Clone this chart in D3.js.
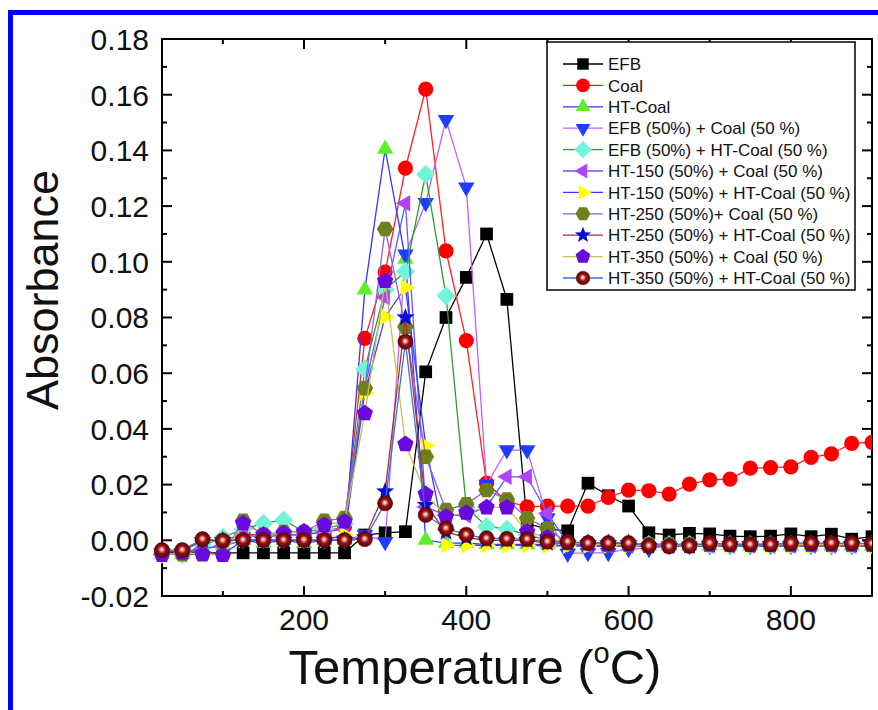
<!DOCTYPE html>
<html><head><meta charset="utf-8">
<script src="https://cdn.jsdelivr.net/npm/d3@7"></script>
<style>body{margin:0;background:#fff} svg{display:block;font-family:Arial,"Liberation Sans",sans-serif}</style>
</head><body><svg id="c" width="878" height="710"></svg>
<script>
const temps=[25,50,75,100,125,150,175,200,225,250,275,300,325,350,375,400,425,450,475,500,525,550,575,600,625,650,675,700,725,750,775,800,825,850,875,900];
const efb=[-0.0045,-0.0045,-0.0045,-0.0045,-0.0045,-0.0045,-0.0045,-0.0045,-0.0045,-0.0045,0.0019,0.0027,0.0031,0.0605,0.080,0.0944,0.110,0.0865,0.006,0.004,0.0034,0.0205,0.016,0.0123,0.0027,0.0019,0.0025,0.0023,0.0015,0.0013,0.0015,0.0023,0.0013,0.0022,0.0004,0.0013];
const coal=[-0.004,-0.004,0.0,0.0,0.002,0.002,0.002,0.002,0.003,0.005,0.0725,0.0963,0.1336,0.162,0.1039,0.0717,0.0205,0.014,0.012,0.0123,0.0123,0.0123,0.0154,0.018,0.0178,0.0166,0.0202,0.0217,0.022,0.0259,0.0261,0.0264,0.0298,0.031,0.0348,0.0352];
const htCoal=[-0.005,-0.005,-0.003,-0.002,0.0,-0.001,0.0,-0.001,0.0,0.0,0.090,0.1405,0.101,0.0001,-0.001,-0.001,-0.0015,-0.0015,-0.0015,-0.0015,-0.002,-0.002,-0.002,-0.002,-0.002,-0.002,-0.002,-0.002,-0.002,-0.002,-0.002,-0.002,-0.002,-0.002,-0.002,-0.002];
const efbCoal=[-0.005,-0.005,-0.003,-0.002,0.0,0.0,0.0,0.0,0.0,0.0,0.002,-0.0005,0.1027,0.1212,0.151,0.1268,0.02,0.0324,0.0324,0.008,-0.0047,-0.0045,-0.0045,-0.003,-0.003,-0.002,-0.002,-0.002,-0.002,-0.002,-0.002,-0.002,-0.002,-0.002,-0.002,-0.002];
const efbHtCoal=[-0.005,-0.005,-0.002,0.001,0.004,0.0061,0.0073,0.003,0.004,0.006,0.0615,0.09,0.0965,0.1314,0.0878,0.012,0.005,0.004,0.002,0.0,-0.001,-0.001,-0.001,-0.001,-0.0015,-0.0015,-0.0015,-0.0015,-0.0015,-0.0015,-0.0015,-0.0015,-0.0015,-0.0015,-0.0015,-0.0015];
const ht150Coal=[-0.005,-0.005,-0.003,-0.002,0.002,0.001,0.002,0.002,0.003,0.004,0.055,0.0873,0.121,0.012,0.009,0.009,0.012,0.0228,0.0228,0.0097,-0.001,-0.002,-0.002,-0.002,-0.002,-0.002,-0.002,-0.002,-0.002,-0.002,-0.002,-0.002,-0.002,-0.002,-0.002,-0.002];
const ht150HtCoal=[-0.005,-0.005,-0.005,-0.005,0.0,0.0,0.0,0.0,0.0,0.002,0.053,0.0803,0.0908,0.034,-0.0017,-0.0018,-0.0018,-0.0018,-0.0018,-0.002,-0.002,-0.002,-0.002,-0.002,-0.002,-0.002,-0.002,-0.002,-0.002,-0.002,-0.002,-0.002,-0.002,-0.002,-0.002,-0.002];
const ht250Coal=[-0.005,-0.005,-0.005,-0.005,0.007,0.002,0.003,0.003,0.007,0.008,0.0546,0.1118,0.0767,0.030,0.0109,0.013,0.018,0.0147,0.0079,0.0043,-0.001,-0.001,-0.0015,-0.0015,-0.0015,-0.0015,-0.0015,-0.0015,-0.0015,-0.0015,-0.0015,-0.0015,-0.0015,-0.0015,-0.0015,-0.0015];
const ht250HtCoal=[-0.004,-0.004,0.0,0.0,0.0,0.0,0.0,0.0,0.0,0.0,0.001,0.0175,0.080,0.0127,0.003,0.001,0.0,0.0,0.0,-0.001,-0.001,-0.001,-0.001,-0.001,-0.002,-0.002,-0.002,-0.0015,-0.0015,-0.0015,-0.0015,-0.0015,-0.0015,-0.0015,-0.0015,-0.0015];
const ht350Coal=[-0.0053,-0.0045,-0.005,-0.0053,0.0061,0.002,0.0025,0.0031,0.0055,0.0067,0.0456,0.0931,0.0345,0.0166,0.0085,0.0099,0.0118,0.0118,0.003,0.001,-0.001,-0.001,-0.0015,-0.0015,-0.002,-0.002,-0.002,-0.0015,-0.0015,-0.0015,-0.0015,-0.0015,-0.0015,-0.0015,-0.0015,-0.0015];
const ht350HtCoal=[-0.0035,-0.0035,0.0004,-0.0001,0.0001,0.0001,0.0001,0.0001,0.0001,0.0001,0.0004,0.0133,0.0713,0.0091,0.0043,0.002,0.0007,0.0005,0.0004,-0.0005,-0.0005,-0.001,-0.001,-0.001,-0.002,-0.0022,-0.002,-0.001,-0.0015,-0.0015,-0.0015,-0.001,-0.001,-0.001,-0.001,-0.0012];

const seriesNames=["EFB","Coal","HT-Coal","EFB (50%) + Coal (50 %)","EFB (50%) + HT-Coal (50 %)","HT-150 (50%) + Coal (50 %)","HT-150 (50%) + HT-Coal (50 %)","HT-250 (50%)+ Coal (50 %)","HT-250 (50%) + HT-Coal (50 %)","HT-350 (50%) + Coal (50 %)","HT-350 (50%) + HT-Coal (50 %)"];
const seriesValues=[efb,coal,htCoal,efbCoal,efbHtCoal,ht150Coal,ht150HtCoal,ht250Coal,ht250HtCoal,ht350Coal,ht350HtCoal];
const xTicks=[200,400,600,800];
const yTicks=[-0.02,0,0.02,0.04,0.06,0.08,0.10,0.12,0.14,0.16,0.18];

// styles
const markerColors=["#000000","#ff0000","#5cf02a","#1f3cff","#70f5d8","#b044f5","#ffff00","#6e7f1e","#0a0ad0","#6a08e0","url(#sphere)"];
const lineColors=["#000000","#ff2020","#3535ff","#c060ff","#2f9a2f","#5a5aff","#3a3aff","#9060d8","#a83030","#c8c050","#3f6fd0"];
const shapes=["square","circle","up","down","diamond","left","right","hexagon","star","pentagon","circle"];

const svg=d3.select("#c");
const defs=svg.append("defs");
const g=defs.append("radialGradient").attr("id","sphere").attr("cx","50%").attr("cy","50%").attr("r","55%").attr("fx","48%").attr("fy","45%");
g.append("stop").attr("offset","0%").attr("stop-color","#ffffff");
g.append("stop").attr("offset","18%").attr("stop-color","#f0a0a0");
g.append("stop").attr("offset","45%").attr("stop-color","#9a1010");
g.append("stop").attr("offset","100%").attr("stop-color","#4a0000");

svg.append("rect").attr("x",0).attr("y",0).attr("width",878).attr("height",710).attr("fill","#fff");
// blue frame
svg.append("rect").attr("x",10.5).attr("y",12.5).attr("width",900).attr("height",760).attr("fill","none").attr("stroke","#0000ff").attr("stroke-width",5);

const L=162,R=872,T=39,B=596;
const x=d3.scaleLinear().domain([25,900]).range([L,R]);
const y=d3.scaleLinear().domain([-0.02,0.18]).range([B,T]);

function poly(n,r,rot){const p=d3.range(n).map(i=>{const a=rot+i*2*Math.PI/n;return [r*Math.cos(a),r*Math.sin(a)];});return "M"+p.map(q=>q[0].toFixed(2)+","+q[1].toFixed(2)).join("L")+"Z";}
function star(R1){const p=d3.range(10).map(i=>{const a=-Math.PI/2+i*Math.PI/5;const r=i%2?R1*0.42:R1;return [r*Math.cos(a),r*Math.sin(a)];});return "M"+p.map(q=>q[0].toFixed(2)+","+q[1].toFixed(2)).join("L")+"Z";}
function shapePath(s,k){
  k=k||1;
  switch(s){
    case "square":return poly(4,9*k,Math.PI/4);
    case "circle":return d3.symbol(d3.symbolCircle,Math.PI*7.6*7.6*k*k)();
    case "up":return poly(3,9.5*k,-Math.PI/2);
    case "down":return poly(3,9.5*k,Math.PI/2);
    case "left":return poly(3,9.5*k,Math.PI);
    case "right":return poly(3,9.5*k,0);
    case "diamond":return poly(4,9.5*k,0);
    case "hexagon":return poly(6,8.3*k,0);
    case "pentagon":return poly(5,8.6*k,-Math.PI/2);
    case "star":return star(9.5*k);
  }
}

// axes box + ticks
const ax=svg.append("g").attr("stroke","#000");
ax.append("rect").attr("x",L).attr("y",T).attr("width",R-L).attr("height",B-T).attr("fill","none").attr("stroke-width",2);
const xMinor=[100,300,500,700];
xTicks.forEach(v=>{ax.append("line").attr("x1",x(v)).attr("x2",x(v)).attr("y1",B).attr("y2",B-10).attr("stroke-width",2);
  ax.append("line").attr("x1",x(v)).attr("x2",x(v)).attr("y1",T).attr("y2",T+10).attr("stroke-width",2);});
xMinor.forEach(v=>{ax.append("line").attr("x1",x(v)).attr("x2",x(v)).attr("y1",B).attr("y2",B-5).attr("stroke-width",2);
  ax.append("line").attr("x1",x(v)).attr("x2",x(v)).attr("y1",T).attr("y2",T+5).attr("stroke-width",2);});
yTicks.forEach(v=>{ax.append("line").attr("x1",L).attr("x2",L+10).attr("y1",y(v)).attr("y2",y(v)).attr("stroke-width",2);
  ax.append("line").attr("x1",R).attr("x2",R-10).attr("y1",y(v)).attr("y2",y(v)).attr("stroke-width",2);});
d3.range(-0.01,0.18,0.02).forEach(v=>{ax.append("line").attr("x1",L).attr("x2",L+5).attr("y1",y(v)).attr("y2",y(v)).attr("stroke-width",2);
  ax.append("line").attr("x1",R).attr("x2",R-5).attr("y1",y(v)).attr("y2",y(v)).attr("stroke-width",2);});

svg.append("g").selectAll("text").data(yTicks).join("text").attr("x",149).attr("y",d=>y(d)).attr("dy","0.36em")
  .attr("text-anchor","end").attr("font-size",30).attr("fill","#111").text(d=>d.toFixed(2));
svg.append("g").selectAll("text").data(xTicks).join("text").attr("x",d=>x(d)).attr("y",630)
  .attr("text-anchor","middle").attr("font-size",30).attr("fill","#111").text(d=>d);

svg.append("text").attr("transform","translate(58,290) rotate(-90)").attr("text-anchor","middle").attr("font-size",45).attr("fill","#111").text("Absorbance");
const xt=svg.append("text").attr("x",475).attr("y",684).attr("text-anchor","middle").attr("font-size",49).attr("fill","#111");
xt.append("tspan").text("Temperature (");
xt.append("tspan").attr("font-size",29).attr("dy",-21).text("o");
xt.append("tspan").attr("dy",21).text("C)");

// series
const clip=defs.append("clipPath").attr("id","pc");
clip.append("rect").attr("x",L-10).attr("y",T-10).attr("width",R-L+10).attr("height",B-T+20);
const plot=svg.append("g").attr("clip-path","url(#pc)");
const line=d3.line().x((d,i)=>x(temps[i])).y(d=>y(d));
seriesValues.forEach((vals,si)=>{
  const sg=plot.append("g");
  sg.append("path").attr("d",line(vals)).attr("fill","none").attr("stroke",lineColors[si]).attr("stroke-width",1.3);
  sg.selectAll("path.m").data(vals).join("path").attr("class","m")
    .attr("transform",(d,i)=>`translate(${x(temps[i])},${y(d)})`)
    .attr("d",shapePath(shapes[si])).attr("fill",markerColors[si]).attr("stroke",si===10?"#5a0000":"none").attr("stroke-width",0.5);
});

// legend
const lg=svg.append("g");
lg.append("rect").attr("x",547).attr("y",42).attr("width",308).attr("height",248).attr("fill","#fff").attr("stroke","#000").attr("stroke-width",1.5);
seriesNames.forEach((n,i)=>{
  const yy=64+i*21.4;
  lg.append("line").attr("x1",563).attr("x2",603).attr("y1",yy).attr("y2",yy).attr("stroke",lineColors[i]).attr("stroke-width",1.3);
  lg.append("path").attr("transform",`translate(583,${yy})`).attr("d",shapePath(shapes[i],0.9)).attr("fill",markerColors[i]).attr("stroke",i===10?"#5a0000":"none").attr("stroke-width",0.5);
  lg.append("text").attr("x",608).attr("y",yy).attr("dy","0.36em").attr("font-size",17).attr("fill","#111").text(n);
});
</script></body></html>
